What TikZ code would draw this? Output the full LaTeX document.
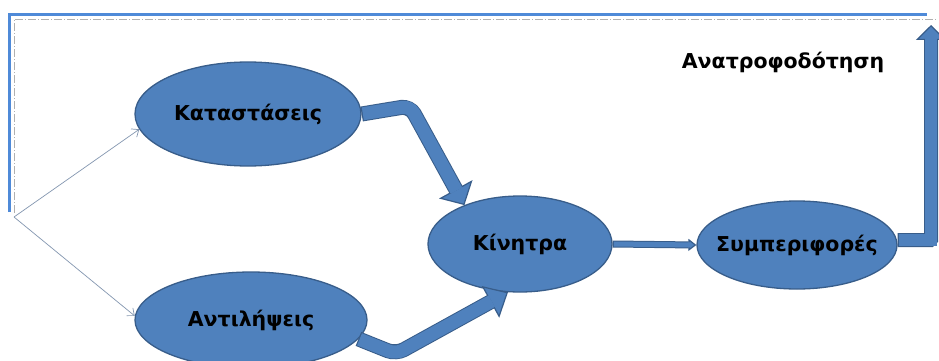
\documentclass[tikz,border=0pt]{standalone}
\usepackage{fontspec}
\setmainfont{DejaVu Sans}
\usetikzlibrary{shapes.geometric,arrows.meta}
\definecolor{mainblue}{HTML}{4F81BD}
\definecolor{edgeblue}{HTML}{385D8A}
\definecolor{frameblue}{HTML}{4F8AD8}
\definecolor{thingray}{HTML}{8497B0}
\definecolor{dashgray}{HTML}{B0B0B0}
\newcommand\blkarrow[5]{%
  \draw[line width=#1+2pt, edgeblue, rounded corners=#5+1pt, line join=miter,
        -{Triangle[length=#3, width=#4, line width=1.2pt, fill=mainblue]}] #2;
  \draw[line width=#1, mainblue, rounded corners=#5, line join=miter,
        shorten <=1.2pt, shorten >=#3-1.5pt] #2;}
\newcommand\bubtext[1]{\makebox[0pt]{#1}}
\tikzset{
  bubble/.style={ellipse, draw=edgeblue, line width=1.3pt, fill=mainblue,
    inner sep=0pt, font=\bfseries\fontsize{20.5}{22}\selectfont},
  plainlabel/.style={font=\bfseries\fontsize{20.5}{22}\selectfont, inner sep=0pt},
  thinarrow/.style={draw=thingray, line width=0.7pt, -{Straight Barb[length=6pt,width=10pt]}},
  frameline/.style={draw=frameblue, line width=3pt},
  dashline/.style={draw=dashgray, line width=0.6pt, dash pattern=on 8pt off 2pt on 1pt off 2pt}
}
\begin{document}
\begin{tikzpicture}[x=1pt,y=-1pt]
\useasboundingbox (0,0) rectangle (939,361);
\fill[white] (0,0) rectangle (939,361);
% frame
\draw[dashline] (14,213) -- (14,19) -- (937,19);
\draw[frameline] (9,212) -- (9,15) -- (927,15);
% nodes
\node[bubble, minimum width=226pt, minimum height=104pt] (K) at (248,114) {\bubtext{Καταστάσεις}};
\node[bubble, minimum width=232pt, minimum height=96pt] (A) at (251,320) {\bubtext{Αντιλήψεις}};
\node[bubble, minimum width=184pt, minimum height=96pt] (M) at (520,244) {\bubtext{Κίνητρα}};
\node[bubble, minimum width=200pt, minimum height=88pt] (S) at (797,245) {\bubtext{Συμπεριφορές}};
\node[plainlabel] (F) at (783,62) {Ανατροφοδότηση};
\coordinate (O) at (14,217);
\coordinate (b1) at (410,106);
\coordinate (b2) at (396,354);
\coordinate (b4) at (931,240);
\coordinate (top) at (931,25);
% thin arrows
\draw[thinarrow] (O) -- (K.188);
\draw[thinarrow] (O) -- (A.178);
% block arrows
\blkarrow{13pt}{(K.east) -- (b1) -- (M.145)}{18pt}{38pt}{8pt}
\blkarrow{13pt}{(A.-10) -- (b2) -- (M.-104)}{20pt}{36pt}{8pt}
\blkarrow{5pt}{(M.east) -- (S.west)}{8pt}{12pt}{0pt}
\blkarrow{12pt}{(S.east |- b4) -- (b4) -- (top)}{15pt}{30pt}{0pt}
\end{tikzpicture}
\end{document}
